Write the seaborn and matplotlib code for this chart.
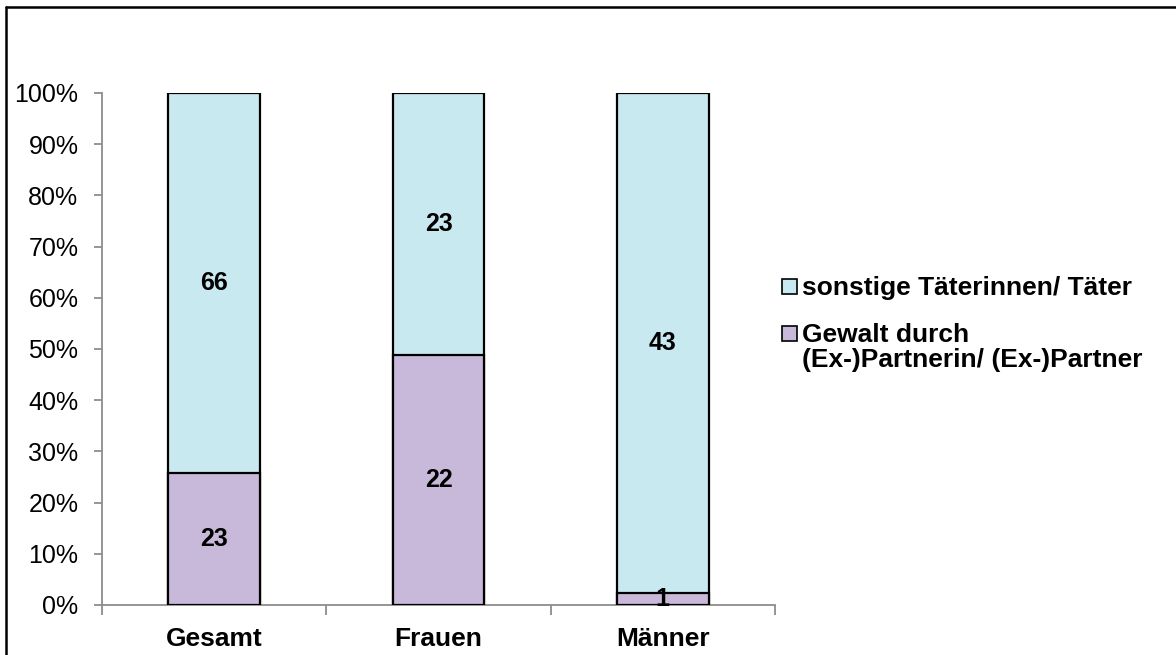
import matplotlib
matplotlib.use("Agg")
import matplotlib.pyplot as plt
from matplotlib.patches import Rectangle
from matplotlib.lines import Line2D
import numpy as np
import pandas as pd
import seaborn as sns

# Counts per group
groups = ["Gesamt", "Frauen", "Männer"]
partner_counts = [23, 22, 1]        # Gewalt durch (Ex-)Partnerin/ (Ex-)Partner
other_counts = [66, 23, 43]         # sonstige Täterinnen/ Täter
series_labels = ["sonstige Täterinnen/ Täter",
                 "Gewalt durch\n(Ex-)Partnerin/ (Ex-)Partner"]
y_ticks = [0, 10, 20, 30, 40, 50, 60, 70, 80, 90, 100]

color_other = "#C9E9F0"
color_partner = "#C8B8DA"
axis_gray = "#8C8C8C"

sns.set_style("white")
plt.rcParams["font.family"] = ["Liberation Sans", "DejaVu Sans"]
plt.rcParams["text.color"] = "black"
plt.rcParams["xtick.labelcolor"] = "black"
plt.rcParams["ytick.labelcolor"] = "black"

partner = np.array(partner_counts, dtype=float)
other = np.array(other_counts, dtype=float)
total = partner + other
partner_pct = partner / total * 100
other_pct = other / total * 100

df = pd.DataFrame({
    "group": groups,
    "partner": partner_pct,
    "stack_top": partner_pct + other_pct,
})

fig = plt.figure(figsize=(11.76, 6.55), dpi=100)
ax = fig.add_axes([102 / 1176, 1 - 605 / 655, (775 - 102) / 1176, (605 - 93) / 655])

bar_w = 0.41
sns.barplot(data=df, x="group", y="stack_top", color=color_other, width=bar_w,
            edgecolor="black", linewidth=1.6, saturation=1, ax=ax, zorder=2)
sns.barplot(data=df, x="group", y="partner", color=color_partner, width=bar_w,
            edgecolor="black", linewidth=1.6, saturation=1, ax=ax, zorder=3)

# Value labels centred in each segment
for i in range(len(groups)):
    ax.text(i, partner_pct[i] / 2, f"{partner_counts[i]}", ha="center", va="center",
            fontsize=18, fontweight="bold", color="black", zorder=5)
    ax.text(i, partner_pct[i] + other_pct[i] / 2, f"{other_counts[i]}", ha="center",
            va="center", fontsize=18, fontweight="bold", color="black", zorder=5)

ax.set_xlim(-0.5, len(groups) - 0.5)
ax.set_ylim(0, 100)
ax.set_yticks(y_ticks)
ax.set_yticklabels([f"{t}%" for t in y_ticks], fontsize=18)
ax.set_xticks(range(len(groups)))
ax.set_xticklabels(groups, fontsize=19, fontweight="bold")
ax.set_xticks(np.arange(-0.5, len(groups)), minor=True)
ax.set_xlabel("")
ax.set_ylabel("")

ax.tick_params(axis="y", which="major", direction="out", length=6, width=1.3,
               color=axis_gray, labelcolor="black", pad=11, left=True)
ax.tick_params(axis="x", which="major", length=0, pad=16, labelcolor="black")
ax.tick_params(axis="x", which="minor", direction="out", length=7, width=1.3,
               color=axis_gray, bottom=True)

for side in ["top", "right"]:
    ax.spines[side].set_visible(False)
for side in ["left", "bottom"]:
    ax.spines[side].set_color(axis_gray)
    ax.spines[side].set_linewidth(1.3)
ax.grid(False)

# Legend drawn in figure pixel coordinates
W, H = 1176, 655
def fx(px):
    return px / W
def fy(py):
    return 1 - py / H

legend_rows = [(color_other, series_labels[0], 286), (color_partner, series_labels[1], 333)]
for col, lab, yc in legend_rows:
    fig.add_artist(Rectangle((fx(782), fy(yc + 7.5)), 15 / W, 15 / H,
                             facecolor=col, edgecolor="black", linewidth=1.2,
                             transform=fig.transFigure))
    fig.text(fx(802), fy(yc - 10), lab, ha="left", va="top", fontsize=19,
             fontweight="bold", color="black", linespacing=1.05)

# Outer frame (top and left edges)
fig.add_artist(Line2D([fx(6), fx(1176)], [fy(7), fy(7)], color="black", linewidth=1.8,
                      transform=fig.transFigure))
fig.add_artist(Line2D([fx(6), fx(6)], [fy(7), fy(655)], color="black", linewidth=1.8,
                      transform=fig.transFigure))

fig.savefig("out.png", dpi=100, facecolor="white")
